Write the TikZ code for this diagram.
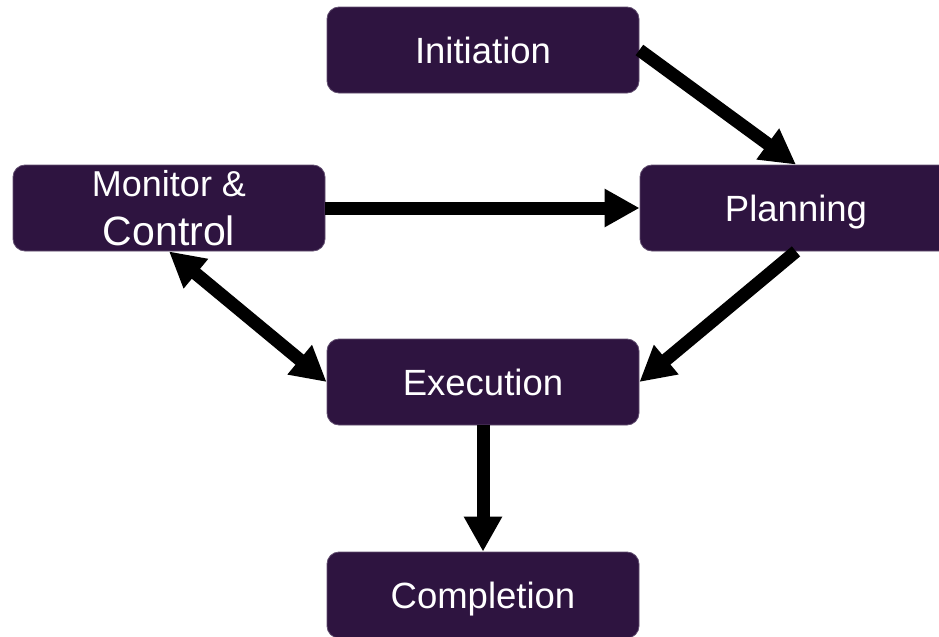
\documentclass[tikz,border=0pt]{standalone}
\usepackage{fontspec}
\setmainfont{Liberation Sans}
\usetikzlibrary{arrows.meta}
\definecolor{phasefill}{RGB}{46,20,64}

\begin{document}
\begin{tikzpicture}[x=0.5pt,y=-0.5pt,
	phasebox/.style={fill=phasefill,draw=phasefill!75!white,line width=0.4pt,rounded corners=6pt,minimum width=156pt,minimum height=43pt,inner sep=0pt,text=white,align=center,text depth=0pt,font=\fontsize{18.25}{22}\selectfont},
	flow/.style={line width=6.5pt,-{Triangle[length=17.5pt,width=18pt]}},
	flowboth/.style={line width=6.5pt,{Triangle[length=17.5pt,width=18pt]}-{Triangle[length=17.5pt,width=18pt]}}]
	\clip (0,0) rectangle (939,637);
	\node[phasebox] (init) at (483,50) {Initiation};
	\node[phasebox,font=\fontsize{18}{24.5}\selectfont] (mon) at (169,208) {Monitor \&\\{\fontsize{20.5}{24.5}\selectfont Control}};
	\node[phasebox] (plan) at (796,208) {Planning};
	\node[phasebox] (exec) at (483,382) {Execution};
	\node[phasebox] (comp) at (483,595) {Completion};
	\draw[flow] (init.east) -- (plan.north);
	\draw[flow] (mon.east) -- (plan.west);
	\draw[flow] (plan.south) -- (exec.east);
	\draw[flowboth] (mon.south) -- (exec.west);
	\draw[flow] (exec.south) -- (comp.north);
\end{tikzpicture}
\end{document}
